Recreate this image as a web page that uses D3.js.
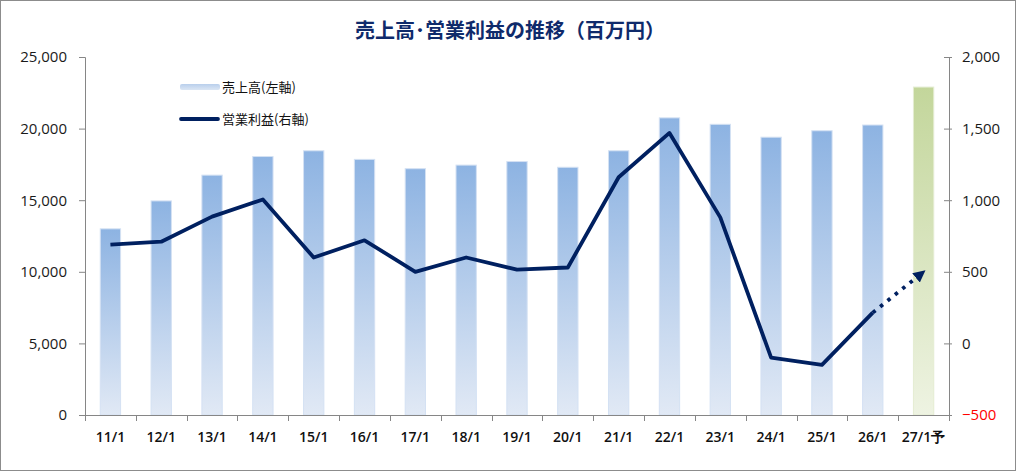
<!DOCTYPE html>
<html><head><meta charset="utf-8">
<script src="https://cdn.jsdelivr.net/npm/d3@7"></script>
<style>
html,body{margin:0;padding:0;background:#fff;}
svg{display:block;}
</style></head>
<body>
<svg id="chart" width="1016" height="471"></svg>
<script>
const categories = ["11/1","12/1","13/1","14/1","15/1","16/1","17/1","18/1","19/1","20/1","21/1","22/1","23/1","24/1","25/1","26/1","27/1予"];
const sales = [13000,14950,16750,18050,18450,17850,17200,17450,17700,17300,18450,20750,20300,19400,19850,20250,22900];
const opProfit = [690,710,885,1005,600,720,500,600,515,530,1160,1470,880,-100,-150,215,500];
const leftTicks = [0,5000,10000,15000,20000,25000];
const rightTicks = [-500,0,500,1000,1500,2000];
const forecastIndex = 16;
const titleText = "売上高･営業利益の推移（百万円）";
const legendLabels = ["売上高(左軸)","営業利益(右軸)"];

const W = 1016, H = 471;
const m = {left:85, right:1016-949, top:57, bottom:471-415};
const svg = d3.select("#chart");
const jp = "'Noto Sans CJK JP', 'Noto Sans', sans-serif";
const num = "'Open Sans', 'DejaVu Sans', sans-serif";
const navy = "#002060";

svg.append("rect").attr("x",0.5).attr("y",0.5).attr("width",W-1).attr("height",H-1)
  .attr("fill","#fff").attr("stroke","#8c8c8c");

const defs = svg.append("defs");
const gB = defs.append("linearGradient").attr("id","gBlue").attr("x1",0).attr("y1",0).attr("x2",0).attr("y2",1);
gB.append("stop").attr("offset","0%").attr("stop-color","#8db3e2");
gB.append("stop").attr("offset","100%").attr("stop-color","#e1e9f5");
const gG = defs.append("linearGradient").attr("id","gGreen").attr("x1",0).attr("y1",0).attr("x2",0).attr("y2",1);
gG.append("stop").attr("offset","0%").attr("stop-color","#c3d69b");
gG.append("stop").attr("offset","100%").attr("stop-color","#eef3e2");
const gL = defs.append("linearGradient").attr("id","gLeg").attr("x1",0).attr("y1",0).attr("x2",0).attr("y2",1);
gL.append("stop").attr("offset","0%").attr("stop-color","#b9cfec");
gL.append("stop").attr("offset","100%").attr("stop-color","#dbe6f4");
defs.append("marker").attr("id","arrow").attr("viewBox","0 0 10 10").attr("refX",8).attr("refY",5)
  .attr("markerWidth",3.2).attr("markerHeight",3.2).attr("orient","auto")
  .append("path").attr("d","M0,0 L10,5 L0,10 Z").attr("fill",navy);

const x = d3.scaleBand().domain(categories).range([m.left, W-m.right]).paddingInner(0.6).paddingOuter(0.3);
const xc = d => x(d) + x.bandwidth()/2;
const yL = d3.scaleLinear().domain([0,25000]).range([H-m.bottom, m.top]);
const yR = d3.scaleLinear().domain([-500,2000]).range([H-m.bottom, m.top]);

// bars
svg.append("g").selectAll("rect").data(sales).join("rect")
  .attr("x",(d,i)=>x(categories[i]))
  .attr("y",d=>yL(d))
  .attr("width",x.bandwidth())
  .attr("height",d=>yL(0)-yL(d))
  .attr("fill",(d,i)=>i===forecastIndex?"url(#gGreen)":"url(#gBlue)")
  .attr("stroke",(d,i)=>i===forecastIndex?"#e4ecd2":"#d4e1f3")
  .attr("stroke-width",1);

// axes
const axisColor = "#868686";
const gLeft = svg.append("g").attr("transform",`translate(${m.left},0)`)
  .call(d3.axisLeft(yL).tickValues(leftTicks).tickSize(6).tickPadding(12).tickFormat(d3.format(",")));
const gRight = svg.append("g").attr("transform",`translate(${W-m.right},0)`)
  .call(d3.axisRight(yR).tickValues(rightTicks).tickSize(0).tickPadding(13).tickFormat(d3.format(",")));
gRight.selectAll(".tick").append("line").attr("x1",-5).attr("x2",3).attr("stroke",axisColor);
[gLeft,gRight].forEach(g=>{
  g.select(".domain").attr("stroke",axisColor);
  g.selectAll(".tick line").attr("stroke",axisColor);
  g.selectAll("text").attr("font-family",num).attr("font-size",15).attr("fill","#1a1a1a");
});
gRight.selectAll(".tick text").attr("fill",d=>d<0?"#ff0000":"#1a1a1a");

// x axis
const gx = svg.append("g");
gx.append("line").attr("x1",m.left).attr("x2",W-m.right).attr("y1",yL(0)+0.5).attr("y2",yL(0)+0.5).attr("stroke",axisColor);
const bounds = d3.range(categories.length+1).map(i=>m.left + i*(W-m.left-m.right)/categories.length);
gx.selectAll("line.t").data(bounds).join("line").attr("class","t")
  .attr("x1",d=>Math.round(d)+0.5).attr("x2",d=>Math.round(d)+0.5)
  .attr("y1",yL(0)).attr("y2",yL(0)+6).attr("stroke",axisColor);
gx.selectAll("text").data(categories).join("text")
  .attr("x",d=>xc(d)).attr("y",yL(0)+27).attr("text-anchor","middle")
  .attr("font-family",num).attr("font-size",14).attr("font-weight","600").attr("fill","#111")
  .text(d=>d);

// line
const solidData = opProfit.slice(0, forecastIndex).map((v,i)=>[xc(categories[i]), yR(v)]);
svg.append("path").attr("d",d3.line()(solidData)).attr("fill","none")
  .attr("stroke",navy).attr("stroke-width",3.8).attr("stroke-linejoin","round");
const dotData = [forecastIndex-1, forecastIndex].map(i=>[xc(categories[i]), yR(opProfit[i])]);
svg.append("path").attr("d",d3.line()(dotData)).attr("fill","none")
  .attr("stroke",navy).attr("stroke-width",3.8).attr("stroke-dasharray","3.5 6")
  .attr("marker-end","url(#arrow)");

// title
svg.append("text").attr("x",510).attr("y",38).attr("text-anchor","middle")
  .attr("font-family",jp).attr("font-size",20).attr("font-weight","bold").attr("fill","#0f2a6b")
  .text(titleText);

// legend
const lg = svg.append("g");
lg.append("rect").attr("x",180).attr("y",84).attr("width",40).attr("height",6).attr("rx",2).attr("fill","url(#gLeg)");
lg.append("text").attr("x",222).attr("y",92).attr("font-family",jp).attr("font-size",13).attr("fill","#111").text(legendLabels[0]);
lg.append("line").attr("x1",181).attr("x2",218).attr("y1",119).attr("y2",119).attr("stroke",navy).attr("stroke-width",3.8).attr("stroke-linecap","round");
lg.append("text").attr("x",222).attr("y",124).attr("font-family",jp).attr("font-size",13).attr("fill","#111").text(legendLabels[1]);
</script>
</body></html>
